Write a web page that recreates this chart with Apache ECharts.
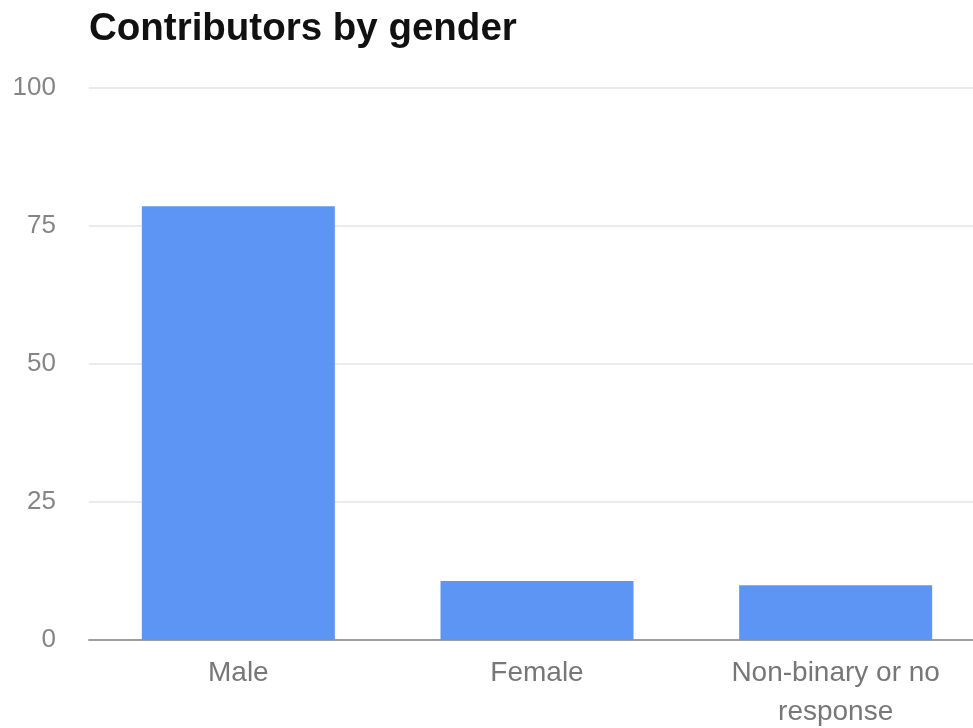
<!DOCTYPE html>
<html>
<head>
<meta charset="utf-8">
<script src="https://cdn.jsdelivr.net/npm/echarts@6/dist/echarts.min.js"></script>
<style>
html,body{margin:0;padding:0;background:#fff;}
#chart{width:973px;height:728px;}
</style>
</head>
<body>
<div id="chart"></div>
<script>
var categories = ["Male", "Female", "Non-binary or no\nresponse"];
var values = [78.6, 10.7, 9.9];
var yTicks = [0, 25, 50, 75, 100];

var chart = echarts.init(document.getElementById('chart'), null, {renderer: 'canvas'});
chart.setOption({
  animation: false,
  backgroundColor: '#ffffff',
  title: {
    text: 'Contributors by gender',
    left: 84,
    top: 5,
    textStyle: {
      fontFamily: 'Liberation Sans, Arial, sans-serif',
      fontSize: 38.5,
      fontWeight: 'bold',
      color: '#111111'
    }
  },
  grid: {
    left: 89,
    top: 88,
    width: 896,
    height: 552,
    containLabel: false,
    outerBoundsMode: 'none'
  },
  xAxis: {
    type: 'category',
    data: categories,
    axisLine: {show: true, lineStyle: {color: '#9e9e9e', width: 2}},
    axisTick: {show: false},
    axisLabel: {
      margin: 14,
      fontFamily: 'Liberation Sans, Arial, sans-serif',
      fontSize: 28,
      color: '#777777',
      lineHeight: 39
    }
  },
  yAxis: {
    type: 'value',
    min: yTicks[0],
    max: yTicks[yTicks.length - 1],
    interval: 25,
    axisLine: {show: false},
    axisTick: {show: false},
    splitLine: {lineStyle: {color: '#e4e4e4', width: 1.5}},
    axisLabel: {
      margin: 33,
      fontFamily: 'Liberation Sans, Arial, sans-serif',
      fontSize: 26,
      color: '#858585'
    }
  },
  series: [{
    type: 'bar',
    data: values,
    barWidth: 193,
    itemStyle: {color: '#5c95f3'}
  }]
});
</script>
</body>
</html>
